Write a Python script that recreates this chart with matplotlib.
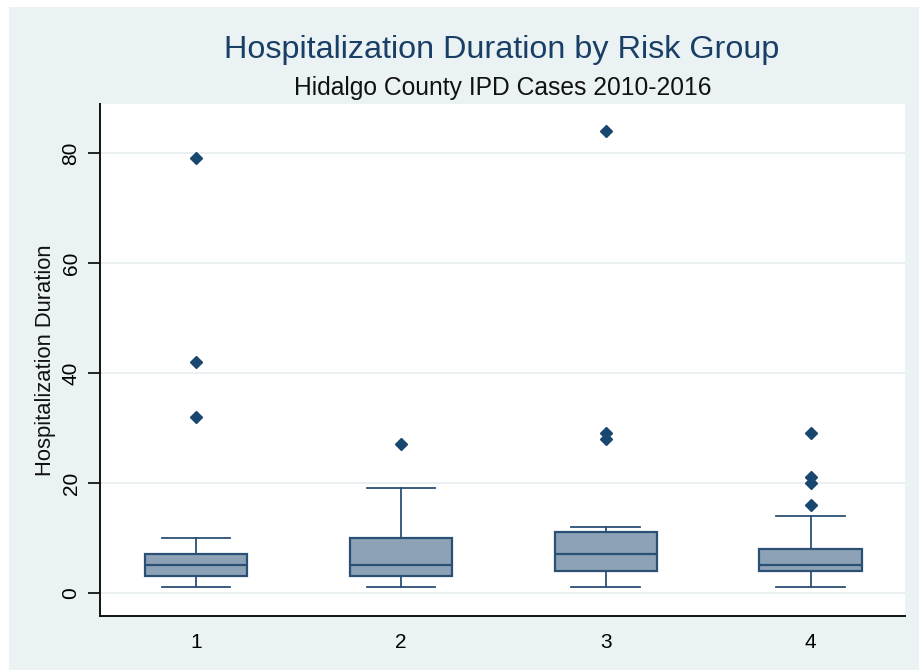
import matplotlib
matplotlib.use("Agg")
import matplotlib.pyplot as plt
from matplotlib.patches import Rectangle

plt.rcParams['font.family'] = ['Liberation Sans', 'DejaVu Sans']

groups = ["1", "2", "3", "4"]
q1 = [3, 3, 4, 4]
median = [5, 5, 7, 5]
q3 = [7, 10, 11, 8]
whisker_low = [1, 1, 1, 1]
whisker_high = [10, 19, 12, 14]
outliers = [[32, 42, 79], [27], [28, 29, 84], [16, 20, 21, 29]]
yticks = [0, 20, 40, 60, 80]

W, H = 919, 671
fig = plt.figure(figsize=(W / 100, H / 100), dpi=100, facecolor="white")
bg = "#EAF2F3"
fig.patches.append(Rectangle((9 / W, 1 - 670 / H), (W - 9) / W, (670 - 7) / H,
                             transform=fig.transFigure, facecolor=bg,
                             edgecolor="none", zorder=-10))

ax = fig.add_axes([100 / W, 1 - 616 / H, (905 - 100) / W, (616 - 104) / H])
ax.set_facecolor("white")

stats = []
for i, g in enumerate(groups):
    stats.append(dict(label=g, med=median[i], q1=q1[i], q3=q3[i],
                      whislo=whisker_low[i], whishi=whisker_high[i],
                      fliers=outliers[i]))

edge = "#2a5075"
ax.bxp(stats, positions=range(1, len(groups) + 1), widths=0.5,
       patch_artist=True, showfliers=True,
       boxprops=dict(facecolor="#8DA2B6", edgecolor=edge, linewidth=1.6),
       medianprops=dict(color=edge, linewidth=1.6),
       whiskerprops=dict(color=edge, linewidth=1.3),
       capprops=dict(color=edge, linewidth=1.3),
       capwidths=0.335,
       flierprops=dict(marker="D", markersize=6, markerfacecolor="#1A476F",
                       markeredgecolor="#1A476F", linestyle="none"))

ax.set_xlim(0.532, 4.46)
ax.set_ylim(-4.2, 88.9)
ax.set_yticks(yticks)
ax.set_yticklabels([str(v) for v in yticks], rotation=90, va="center",
                   fontsize=15)
ax.tick_params(axis="x", labelsize=15, length=0, pad=12)
ax.tick_params(axis="y", length=9, width=1.2, pad=5)
ax.yaxis.grid(True, color="#E6EEF0", linewidth=1.2)
ax.set_axisbelow(True)

for s in ["top", "right"]:
    ax.spines[s].set_visible(False)
for s in ["left", "bottom"]:
    ax.spines[s].set_linewidth(1.4)
    ax.spines[s].set_color("#111111")

ax.text((46 - 100) / 805, 0.5, "Hospitalization Duration", transform=ax.transAxes,
        rotation=90, ha="center", va="center", fontsize=15.8, color="#111111")

fig.text(502 / W, 1 - 50 / H, "Hospitalization Duration by Risk Group",
         ha="center", va="center", fontsize=23.3, color="#1A3F66")
fig.text(503 / W, 1 - 88 / H, "Hidalgo County IPD Cases 2010-2016",
         ha="center", va="center", fontsize=17.7, color="#111111")

fig.savefig("out.png", dpi=100, facecolor="white")
